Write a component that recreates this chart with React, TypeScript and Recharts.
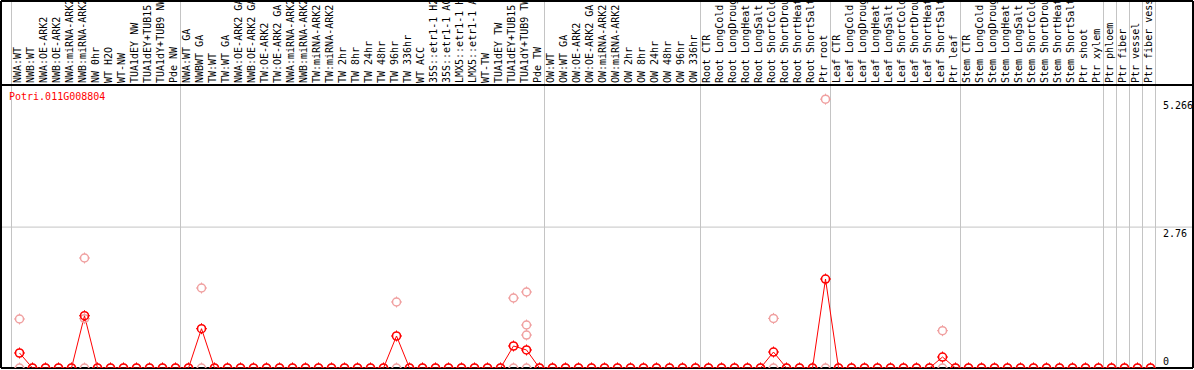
import React from 'react';
import { ComposedChart, Line, XAxis, YAxis, ReferenceLine } from 'recharts';

const geneId = 'Potri.011G008804';

const categories: string[] = [
  'NWA:WT', 'NWB:WT', 'NWA:OE-ARK2', 'NWB:OE-ARK2', 'NWA:miRNA-ARK2', 'NWB:miRNA-ARK2', 'NW 0hr', 'WT H2O', 'WT-NW', 'TUA1dEY NW', 'TUA1dEY+TUB15 NW', 'TUA1dY+TUB9 NW', 'Pde NW',
  'NWA:WT GA', 'NWBWT GA', 'TW:WT', 'TW:WT GA', 'NWA:OE-ARK2 GA', 'NWB:OE-ARK2 GA', 'TW:OE-ARK2', 'TW:OE-ARK2 GA', 'NWA:miRNA-ARK2', 'NWB:miRNA-ARK2', 'TW:miRNA-ARK2', 'TW:miRNA-ARK2', 'TW 2hr', 'TW 8hr', 'TW 24hr', 'TW 48hr', 'TW 96hr', 'TW 336hr', 'WT ACC', '35S::etr1-1 H2O', '35S::etr1-1 ACC', 'LMX5::etr1-1 H2O', 'LMX5::etr1-1 ACC', 'WT-TW', 'TUA1dEY TW', 'TUA1dEY+TUB15 TW', 'TUA1dY+TUB9 TW', 'Pde TW',
  'OW:WT', 'OW:WT GA', 'OW:OE-ARK2', 'OW:OE-ARK2 GA', 'OW:miRNA-ARK2', 'OW:miRNA-ARK2', 'OW 2hr', 'OW 8hr', 'OW 24hr', 'OW 48hr', 'OW 96hr', 'OW 336hr',
  'Root CTR', 'Root LongCold', 'Root LongDrought', 'Root LongHeat', 'Root LongSalt', 'Root ShortCold', 'Root ShortDrought', 'Root ShortHeat', 'Root ShortSalt', 'Ptr root',
  'Leaf CTR', 'Leaf LongCold', 'Leaf LongDrought', 'Leaf LongHeat', 'Leaf LongSalt', 'Leaf ShortCold', 'Leaf ShortDrought', 'Leaf ShortHeat', 'Leaf ShortSalt', 'Ptr leaf',
  'Stem CTR', 'Stem LongCold', 'Stem LongDrought', 'Stem LongHeat', 'Stem LongSalt', 'Stem ShortCold', 'Stem ShortDrought', 'Stem ShortHeat', 'Stem ShortSalt', 'Ptr shoot', 'Ptr xylem',
  'Ptr phloem', 'Ptr fiber', 'Ptr vessel', 'Ptr fiber vessel',
];

// mean expression per sample (red line)
const meanValues: number[] = [
  0.294, 0, 0, 0, 0, 1.024, 0, 0, 0, 0, 0, 0, 0,
  0, 0.77, 0, 0, 0, 0, 0, 0, 0, 0, 0, 0, 0, 0, 0, 0, 0.627, 0, 0, 0, 0, 0, 0, 0, 0, 0.431, 0.353, 0,
  0, 0, 0, 0, 0, 0, 0, 0, 0, 0, 0, 0,
  0, 0, 0, 0, 0, 0.313, 0, 0, 0, 1.743,
  0, 0, 0, 0, 0, 0, 0, 0, 0.215, 0,
  0, 0, 0, 0, 0, 0, 0, 0, 0, 0, 0,
  0, 0, 0, 0,
];

// replicate values (pale circles): lowest replicate per sample
const replicateLow: number[] = [
  0, 0, 0, 0, 0, 0, 0, 0, 0, 0, 0, 0, 0,
  0, 0, 0, 0, 0, 0, 0, 0, 0, 0, 0, 0, 0, 0, 0, 0, 0, 0, 0, 0, 0, 0, 0, 0, 0, 0, 0, 0,
  0, 0, 0, 0, 0, 0, 0, 0, 0, 0, 0, 0,
  0, 0, 0, 0, 0, 0, 0, 0, 0, 0,
  0, 0, 0, 0, 0, 0, 0, 0, 0, 0,
  0, 0, 0, 0, 0, 0, 0, 0, 0, 0, 0,
  0, 0, 0, 0,
];

// other replicates, as [sample index, value]
const replicateHigh: [number, number][] = [
  [0, 0.96], [5, 2.155], [14, 1.567], [29, 1.293], [38, 1.371], [39, 1.489], [58, 0.972], [62, 5.266], [71, 0.731],
];
const replicateMid: [number, number][] = [
  [5, 0.966], [39, 0.842],
];
const replicateMid2: [number, number][] = [
  [39, 0.646],
];

const yTicks = [0, 2.76, 5.266];
const groupBoundaries = [0, 13, 41, 53, 63, 73, 84, 85, 86, 87, 88];

const X_MIN = -1.4231;
const X_MAX = 90.269;
const Y_MAX = 7.189;
const BOUNDARY_SHIFT = 0.6154;
const HEADER_LINE = 5.5436;

const rows = categories.map((name, i) => {
  const find = (list: [number, number][]) => {
    const f = list.find((p) => p[0] === i);
    return f ? f[1] : null;
  };
  return {
    i,
    name,
    main: meanValues[i],
    r0: replicateLow[i],
    r1: find(replicateHigh),
    r2: find(replicateMid),
    r3: find(replicateMid2),
  };
});

const tickIdx = categories.map((_, i) => i);

const FONT = '"DejaVu Sans Mono", "Liberation Mono", monospace';

const makeDot = (color: string, sw: number) => (props: any) => {
  const { cx, cy, value, index } = props;
  if (cx == null || cy == null || value == null || Number.isNaN(cy)) return <g key={`e-${index}`} />;
  return (
    <g key={`d-${color}-${index}`}>
      <circle cx={cx} cy={cy} r={4} fill="none" stroke={color} strokeWidth={sw} />
      <line x1={cx} y1={cy - 4} x2={cx} y2={cy - 5.5} stroke={color} strokeWidth={1} />
      <line x1={cx} y1={cy + 4} x2={cx} y2={cy + 5.5} stroke={color} strokeWidth={1} />
      <line x1={cx - 4} y1={cy} x2={cx - 5.5} y2={cy} stroke={color} strokeWidth={1} />
      <line x1={cx + 4} y1={cy} x2={cx + 5.5} y2={cy} stroke={color} strokeWidth={1} />
    </g>
  );
};

const paleDot = makeDot('#f0a0a0', 1.5);
const redDot = makeDot('#ff0000', 1.6);

const HeaderTick = (props: any) => {
  const { x, payload } = props;
  const tx = x + 1;
  const ty = 83;
  return (
    <text x={tx} y={ty} transform={`rotate(-90 ${tx} ${ty})`} fontFamily={FONT} fontSize={10} fill="#000" textAnchor="start">
      {categories[payload.value]}
    </text>
  );
};

const ValueTick = (props: any) => {
  const { y, payload } = props;
  const v = payload.value;
  const ty = v === 0 ? y - 3 : y + 10;
  return (
    <text x={1163} y={ty} fontFamily={FONT} fontSize={10} fill="#000" textAnchor="start">
      {String(v)}
    </text>
  );
};

export default function App() {
  return (
    <div style={{ position: 'absolute', left: 0, top: 0, width: 1194, height: 370, background: '#fff' }}>
      <ComposedChart width={1194} height={370} data={rows} margin={{ top: 0, right: 0, bottom: 2, left: 1 }}>
        <XAxis
          type="number"
          dataKey="i"
          orientation="top"
          domain={[X_MIN, X_MAX]}
          allowDataOverflow
          ticks={tickIdx}
          interval={0}
          height={1}
          axisLine={false}
          tickLine={false}
          tick={<HeaderTick />}
        />
        <YAxis
          type="number"
          orientation="right"
          domain={[0, Y_MAX]}
          allowDataOverflow
          ticks={yTicks}
          interval={0}
          width={1}
          axisLine={false}
          tickLine={false}
          tick={<ValueTick />}
        />
        {groupBoundaries.map((b) => (
          <ReferenceLine key={`b-${b}`} x={b - BOUNDARY_SHIFT} stroke="#c4c4c4" strokeWidth={1} />
        ))}
        <ReferenceLine y={2.76} stroke="#c4c4c4" strokeWidth={1} />
        <ReferenceLine y={HEADER_LINE} stroke="#000" strokeWidth={2} />
        <ReferenceLine y={0} stroke="#000" strokeWidth={2} />
        <ReferenceLine y={Y_MAX} stroke="#000" strokeWidth={2} />
        <ReferenceLine x={X_MIN} stroke="#000" strokeWidth={2} />
        <ReferenceLine x={X_MAX} stroke="#000" strokeWidth={2} />
        <Line dataKey="r0" stroke="none" dot={paleDot} activeDot={false} isAnimationActive={false} legendType="none" />
        <Line dataKey="r1" stroke="none" dot={paleDot} activeDot={false} isAnimationActive={false} legendType="none" />
        <Line dataKey="r2" stroke="none" dot={paleDot} activeDot={false} isAnimationActive={false} legendType="none" />
        <Line dataKey="r3" stroke="none" dot={paleDot} activeDot={false} isAnimationActive={false} legendType="none" />
        <Line dataKey="main" stroke="#ff0000" strokeWidth={1} dot={redDot} activeDot={false} isAnimationActive={false} legendType="none" />
      </ComposedChart>
      <div
        style={{
          position: 'absolute',
          left: 9,
          top: 91.5,
          fontFamily: FONT,
          fontSize: 10,
          lineHeight: '10px',
          color: '#ff0000',
          whiteSpace: 'nowrap',
        }}
      >
        {geneId}
      </div>
    </div>
  );
}
